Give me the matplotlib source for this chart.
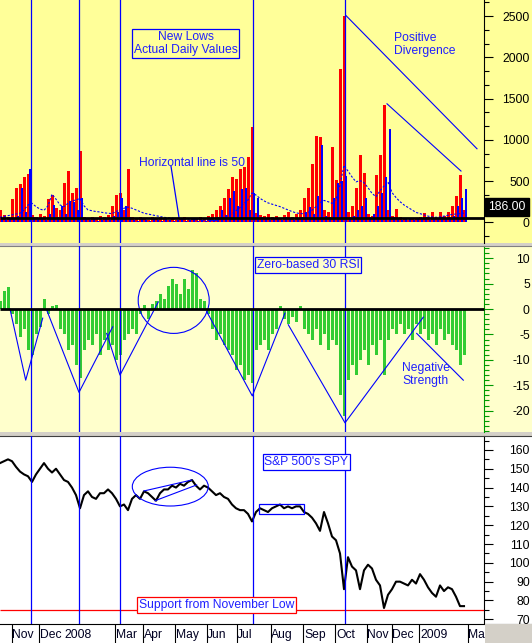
import numpy as np
import matplotlib.pyplot as plt
from matplotlib.patches import Ellipse, Rectangle
from matplotlib.ticker import MultipleLocator

plt.rcParams['font.family'] = ['Liberation Sans', 'DejaVu Sans']
plt.rcParams['axes.unicode_minus'] = False

W, H = 532, 643
STEP = 4        # chart pixels between two samples
AXIS_X = 484    # x of the price scale
FS = 8.7
NOTE = '#2020FF'

# new lows, two exchanges, sampled every STEP px from the left edge
red_lows = [150, 90, 60, 280, 420, 470, 550, 580, 90, 70,
            100, 80, 280, 330, 170, 150, 480, 620, 360, 420,
            870, 60, 40, 70, 50, 80, 60, 90, 200, 330,
            360, 150, 650, 70, 40, 60, 50, 30, 60, 40,
            70, 40, 30, 50, 30, 40, 60, 30, 50, 40,
            60, 50, 80, 100, 150, 200, 300, 400, 550, 520,
            650, 670, 790, 1150, 110, 90, 80, 100, 60, 80,
            50, 90, 120, 70, 100, 150, 290, 410, 710, 1040,
            1035, 150, 120, 910, 510, 1860, 2500, 120, 200, 420,
            810, 600, 100, 80, 570, 820, 1425, 150, 80, 165,
            60, 40, 30, 50, 40, 60, 110, 70, 120, 50,
            120, 80, 130, 200, 320, 570, 150]
blue_lows = [40, 30, 50, 40, 80, 410, 120, 650, 60, 40,
             50, 30, 100, 210, 60, 200, 100, 260, 240, 150,
             290, 40, 30, 40, 20, 30, 40, 30, 80, 120,
             300, 200, 60, 30, 20, 40, 30, 20, 40, 30,
             20, 40, 30, 20, 30, 40, 20, 30, 40, 20,
             30, 20, 40, 30, 60, 150, 90, 300, 380, 200,
             400, 410, 150, 350, 300, 60, 40, 30, 50, 40,
             30, 60, 40, 30, 50, 60, 120, 180, 100, 320,
             940, 80, 60, 300, 480, 500, 560, 60, 80, 150,
             200, 300, 60, 100, 200, 350, 550, 1130, 60, 40,
             30, 50, 40, 30, 50, 40, 60, 30, 50, 40,
             60, 50, 70, 80, 200, 300, 400]
lows_avg = [60, 70, 80, 90, 100, 110, 150, 210, 230, 190,
            160, 145, 200, 340, 280, 210, 190, 230, 260, 270,
            290, 200, 150, 140, 130, 125, 115, 110, 105, 130,
            150, 170, 185, 170, 150, 130, 110, 100, 90, 80,
            70, 60, 55, 50, 45, 44, 40, 38, 35, 32,
            30, 28, 26, 25, 24, 40, 60, 80, 105, 140,
            180, 230, 270, 355, 330, 290, 260, 235, 220, 205,
            190, 170, 150, 130, 115, 105, 105, 120, 145, 190,
            240, 265, 250, 230, 280, 450, 690, 620, 550, 490,
            505, 480, 420, 350, 310, 380, 440, 490, 360, 300,
            250, 210, 180, 150, 120, 105, 90, 75, 65, 60,
            65, 75, 85, 95, 100, 105, 110]
rsi30 = [1.5, 3.5, 4.4, -1, -3, -5.5, -4, -8, -9, -5,
         -3.5, 2, -1, 0.5, 0.8, -4, -5, -8, -7, -11,
         -13.6, -8, -6, -7, -5, -9, -6, -8, -7, -10,
         -9, -6, -5, -4, -5, -1, 0.8, -2, 1, 1.5,
         3, 2, 4.5, 6, 5, 3, 6, 4, 7.7, 7,
         2, 1.5, -1, -4, -6, -5, -7, -8, -9, -12,
         -11, -14, -13, -14.6, -8, -7, -6, -8, -5, -4,
         0.5, -2, -3, -1.5, -2.5, 0.5, -4, -5, -6, -4,
         -7, -5, -8, -6, -7, -17, -21, -14, -11, -13,
         -10, -8, -11, -7, -9, -6, -13, -6, -4, -5,
         -3, -5, -4, -6, -3, -5, -4, -6, -5, -7,
         -4, -6, -5, -7, -8, -11, -9]
spy = [153, 154, 155, 154, 151, 148.5, 147, 146, 143, 147,
       150, 153, 150, 148, 150, 147, 144, 143, 140, 136,
       129, 136, 138, 135, 134, 137, 137, 139, 137, 134,
       130, 131, 128, 134, 136, 134, 138, 137, 135, 133,
       137, 139, 139, 141, 140, 142, 141, 143, 144, 141,
       139, 141, 140, 138, 136, 137, 135, 134, 131, 129,
       128, 128, 126, 122, 127, 129, 128, 127, 129, 130,
       131, 129, 130, 129, 130, 130, 127, 126, 124, 121,
       117, 127, 121, 114, 112, 105, 86, 103, 98, 96,
       86, 96, 99, 97, 91, 88, 76, 83, 86, 90,
       90, 89, 88, 91, 89, 94, 91, 87, 84, 82,
       88, 85, 87, 86, 82, 77, 77]
last_lows = 186.0
support = 75.2

month_labels = ['Nov', 'Dec', '2008', 'Mar', 'Apr', 'May', 'Jun', 'Jul',
                'Aug', 'Sep', 'Oct', 'Nov', 'Dec', '2009', 'Mar']
month_x = [12, 40, 64, 116, 144, 176, 207, 237, 271, 304, 336, 367, 392, 420, 468]
month_seps = [12, 39, 115, 143, 175, 207, 237, 271, 303, 335, 367, 392, 419, 468]
event_x = [31, 79, 120, 253, 345]

# hand drawn trend lines
div_lines = [([346, 477], [2505, 891]), ([387, 461], [1436, 621])]
rsi_zigzags = [([10, 25.7, 42.7], [0, -14, -1.8]),
               ([46.7, 79, 112.7], [-0.2, -16.4, -3.5]),
               ([106.7, 120, 158.3], [-4.8, -13, 1.4]),
               ([206.7, 252.3, 285], [-0.5, -17.1, -0.8]),
               ([288.3, 345, 423.3], [-3.1, -22.4, -1.6]),
               ([416.7, 463.3], [-4.8, -14])]
spy_channel = [([144, 191.7], [138.2, 144.0]), ([155, 196.7], [133.0, 141.4])]

xs = np.arange(len(spy)) * STEP

fig = plt.figure(figsize=(W / 100, H / 100), dpi=100, facecolor='#D4D0C8')


def panel(top, bottom, color):
    ax = fig.add_axes([0, 1 - bottom / H, 1, (bottom - top) / H], facecolor=color)
    ax.set_xlim(0, W)
    ax.set_xticks([])
    for side in ('left', 'top', 'bottom'):
        ax.spines[side].set_visible(False)
    ax.spines['right'].set_position(('data', AXIS_X))
    ax.yaxis.tick_right()
    return ax


def scale(ax, lo, hi, major, minor, color='black'):
    ax.set_ylim(lo, hi)
    ax.yaxis.set_major_locator(MultipleLocator(major))
    ax.yaxis.set_minor_locator(MultipleLocator(minor))
    ax.tick_params(axis='y', which='major', length=6.5, width=0.8, color=color,
                   pad=26.5, labelsize=FS, labelcolor='black')
    ax.tick_params(axis='y', which='minor', length=3.5, width=0.8, color=color)
    ax.spines['right'].set_color(color)
    ax.spines['right'].set_linewidth(0.8)
    plt.setp(ax.get_yticklabels(), ha='right')


def note(x, y, s, **kw):
    fig.text(x / W, 1 - y / H, s, fontsize=FS, color=NOTE, **kw)


# ---- new lows
ax1 = panel(0, 243, '#FFFF99')
scale(ax1, -251, 2694, 500, 500 / 3)
ax1.bar(xs, red_lows, width=3.0, color='#FF0000', linewidth=0, zorder=2)
ax1.bar(xs + 1.6, blue_lows, width=2.0, color='#0000FF', linewidth=0, zorder=2.5)
ax1.plot(xs, lows_avg, color='#0000FF', lw=0.8, dashes=(2, 1.5), zorder=3)
ax1.hlines(50, 0, AXIS_X, color='black', lw=2, zorder=5)
for lx, ly in div_lines:
    ax1.plot(lx, ly, color='#0000FF', lw=0.8, zorder=4)
ax1.plot([171, 179], [678, 57], color='#0000FF', lw=0.9, zorder=4)
ax1.text(507, last_lows, '%.2f' % last_lows, ha='center', va='center', color='white',
         fontsize=FS, zorder=10, clip_on=False,
         bbox=dict(boxstyle='square,pad=0.25', fc='black', ec='black'))

# ---- zero based RSI
ax2 = panel(246, 432, '#FFFFCC')
scale(ax2, -24.2, 12.4, 5, 1, color='#009900')
ax2.bar(xs, rsi30, width=3.0, color='#33CC33', linewidth=0, zorder=2)
ax2.hlines(0, 0, AXIS_X, color='black', lw=2, zorder=5)
for lx, ly in rsi_zigzags:
    ax2.plot(lx, ly, color='#0000FF', lw=0.8, zorder=4)
ax2.add_patch(Ellipse((173.7, 1.7), 71, 13.0, fill=False, ec='#0000FF', lw=0.8, zorder=4))
ax2.spines['top'].set_visible(True)
ax2.spines['top'].set_color('#808080')

# ---- SPY
ax3 = panel(436, 624, 'white')
scale(ax3, 67.5, 167.4, 10, 5)
ax3.plot(xs, spy, color='black', lw=1.5, zorder=3)
ax3.hlines(support, 0, AXIS_X, color='#FF0000', lw=0.9, zorder=2)
ax3.add_patch(Ellipse((170.3, 140.5), 76, 20.6, fill=False, ec='#0000FF', lw=0.8, zorder=4))
for lx, ly in spy_channel:
    ax3.plot(lx, ly, color='#0000FF', lw=0.8, zorder=4)
ax3.add_patch(Rectangle((259, 125.8), 45, 5.4, fill=False, ec='#0000FF', lw=0.9, zorder=4))
ax3.spines['top'].set_visible(True)
ax3.spines['top'].set_color('#404040')

for ax in (ax1, ax2, ax3):
    for ex in event_x:
        ax.axvline(ex, color='#0000FF', lw=0.9, zorder=4)

# ---- date strip
axd = fig.add_axes([0, 0, 1, 19 / H], facecolor='white')
axd.set_xlim(0, W)
axd.set_ylim(0, 1)
axd.set_xticks([])
axd.set_yticks([])
for side in ('left', 'right', 'bottom'):
    axd.spines[side].set_visible(False)
axd.spines['top'].set_linewidth(0.8)
axd.vlines(month_seps, 0, 1, color='black', lw=0.8)
for lx, lab in zip(month_x, month_labels):
    axd.text(lx, 0.42, lab, ha='left', va='center', fontsize=FS, color='#000022')
axd.add_patch(Rectangle((485, 0), W - 485, 1, fc='#D4D0C8', ec='none', zorder=6))

# ---- notes
note(185.5, 43.5, 'New Lows\nActual Daily Values', ha='center', va='center',
     multialignment='center', linespacing=1.15,
     bbox=dict(boxstyle='square,pad=0.15', fc='#FFFF99', ec='#0000FF', lw=0.9))
note(394, 32, 'Positive\nDivergence', ha='left', va='top', linespacing=1.15)
note(139, 163, 'Horizontal line is 50', ha='left', va='center')
note(308, 265, 'Zero-based 30 RSI', ha='center', va='center',
     bbox=dict(boxstyle='square,pad=0.15', fc='#FFFFCC', ec='#0000FF', lw=0.9))
note(402, 362, 'Negative\nStrength', ha='left', va='top', linespacing=1.15)
note(306.5, 462, "S&P 500's SPY", ha='center', va='center',
     bbox=dict(boxstyle='square,pad=0.15', fc='white', ec='#0000FF', lw=0.9))
note(216.5, 605, 'Support from November Low', ha='center', va='center',
     bbox=dict(boxstyle='square,pad=0.15', fc='white', ec='#FF0000', lw=0.9))

fig.savefig('out.png', dpi=100, facecolor=fig.get_facecolor())
